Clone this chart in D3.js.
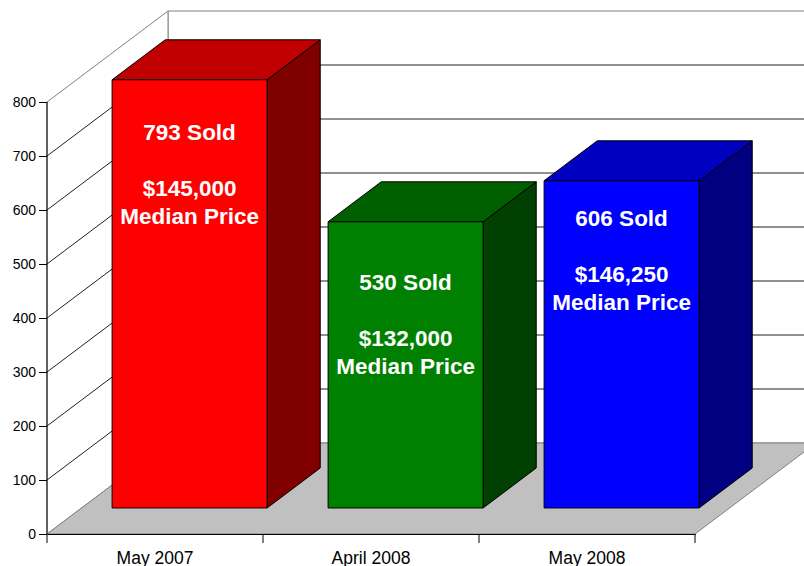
<!DOCTYPE html>
<html>
<head>
<meta charset="utf-8">
<script src="https://cdn.jsdelivr.net/npm/d3@7"></script>
<style>
  body { margin: 0; background: #fff; }
  svg { display: block; font-family: "Liberation Sans", Arial, sans-serif; }
</style>
</head>
<body>
<div id="container"></div>
<script>
/***** data *****/
const categories = ["May 2007", "April 2008", "May 2008"];
const sold = [793, 530, 606];
const prices = ["$145,000", "$132,000", "$146,250"];
const yTicks = [0, 100, 200, 300, 400, 500, 600, 700, 800];

const frontColors = ["#ff0000", "#008000", "#0000ff"];
const topColors = ["#c00000", "#006000", "#0000c0"];
const sideColors = ["#800000", "#004000", "#000080"];

/***** layout *****/
const width = 804, height = 566;
const depthX = 121, depthY = -91;     // offset of the back wall
const barZ0 = 0.286, barZ1 = 0.725;   // depth of bar front / back
const labelDy = [60, 68, 45];         // first label baseline below bar top

const svg = d3.select("#container").append("svg")
  .attr("width", width)
  .attr("height", height);

const x = d3.scaleBand()
  .domain(categories)
  .range([47, 695])
  .padding(0);

const y = d3.scaleLinear()
  .domain([0, 800])
  .range([534, 102]);

const barW = x.bandwidth() * 0.7176;

// project a point on the front plane (px, value) back to depth z
function proj(px, v, z) {
  return [px + z * depthX, y(v) + z * depthY];
}
const pts = a => a.map(p => p.join(",")).join(" ");

const x0 = x.range()[0], x1 = x.range()[1];

// back wall
svg.append("polygon")
  .attr("points", pts([proj(x0, 0, 1), proj(x0, 800, 1), proj(x1 + 200, 800, 1), proj(x1 + 200, 0, 1)]))
  .attr("fill", "#fff")
  .attr("stroke", "#808080");

// left wall
svg.append("polygon")
  .attr("points", pts([proj(x0, 0, 0), proj(x0, 800, 0), proj(x0, 800, 1), proj(x0, 0, 1)]))
  .attr("fill", "#fff")
  .attr("stroke", "#808080");

// gridlines
const grid = yTicks.filter(t => t > 0 && t < 800);
svg.append("g")
  .selectAll("polyline")
  .data(grid)
  .join("polyline")
    .attr("points", d => pts([proj(x0, d, 0), proj(x0, d, 1), proj(x1 + 200, d, 1)]))
    .attr("fill", "none")
    .attr("stroke", "#222")
    .attr("stroke-width", 1);

// floor
svg.append("polygon")
  .attr("points", pts([proj(x0, 0, 0), proj(x1, 0, 0), proj(x1, 0, 1), proj(x0, 0, 1)]))
  .attr("fill", "#c0c0c0")
  .attr("stroke", "#808080");

// bars
const bars = svg.append("g")
  .selectAll("g")
  .data(categories)
  .join("g");

bars.each(function(c, i) {
  const g = d3.select(this);
  const left = x(c) + (x.bandwidth() - barW) / 2;
  const right = left + barW;
  const v = sold[i];

  // side
  g.append("polygon")
    .attr("points", pts([proj(right, 0, barZ0), proj(right, v, barZ0), proj(right, v, barZ1), proj(right, 0, barZ1)]))
    .attr("fill", sideColors[i])
    .attr("stroke", "#000");
  // top
  g.append("polygon")
    .attr("points", pts([proj(left, v, barZ0), proj(right, v, barZ0), proj(right, v, barZ1), proj(left, v, barZ1)]))
    .attr("fill", topColors[i])
    .attr("stroke", "#000");
  // front
  g.append("polygon")
    .attr("points", pts([proj(left, 0, barZ0), proj(right, 0, barZ0), proj(right, v, barZ0), proj(left, v, barZ0)]))
    .attr("fill", frontColors[i])
    .attr("stroke", "#000");

  // labels
  const cx = (left + right) / 2 + barZ0 * depthX;
  const top = y(v) + barZ0 * depthY;
  const lines = [[sold[i] + " Sold", 0], [prices[i], 56], ["Median Price", 84]];
  g.selectAll("text")
    .data(lines)
    .join("text")
      .attr("x", cx)
      .attr("y", d => top + labelDy[i] + d[1])
      .attr("text-anchor", "middle")
      .attr("fill", "#fff")
      .attr("font-weight", "bold")
      .attr("font-size", "22.5px")
      .text(d => d[0]);
});

// y axis
const yAxis = svg.append("g")
  .attr("transform", "translate(" + x0 + ",0)")
  .call(d3.axisLeft(y).tickValues(yTicks).tickSize(8).tickPadding(3).tickFormat(d3.format("d")));
yAxis.select(".domain").attr("stroke", "#000").attr("d", "M0," + y(800) + "V" + y(0));
yAxis.selectAll("text").attr("font-size", "14px").attr("font-family", "Liberation Sans, Arial, sans-serif").attr("fill", "#000");

// x axis
const xAxis = svg.append("g")
  .attr("transform", "translate(0," + y(0) + ")")
  .call(d3.axisBottom(x).tickSize(0).tickSizeOuter(0).tickPadding(18));
xAxis.select(".domain").attr("stroke", "#000");
xAxis.selectAll("text").attr("font-size", "17.5px").attr("font-family", "Liberation Sans, Arial, sans-serif").attr("fill", "#000");

// category separators on x axis
const bounds = categories.map(c => x(c)).concat([x1]);
xAxis.selectAll(".sep")
  .data(bounds)
  .join("line")
    .attr("class", "sep")
    .attr("x1", d => d).attr("x2", d => d)
    .attr("y1", 0).attr("y2", 9)
    .attr("stroke", "#000");
</script>
</body>
</html>
